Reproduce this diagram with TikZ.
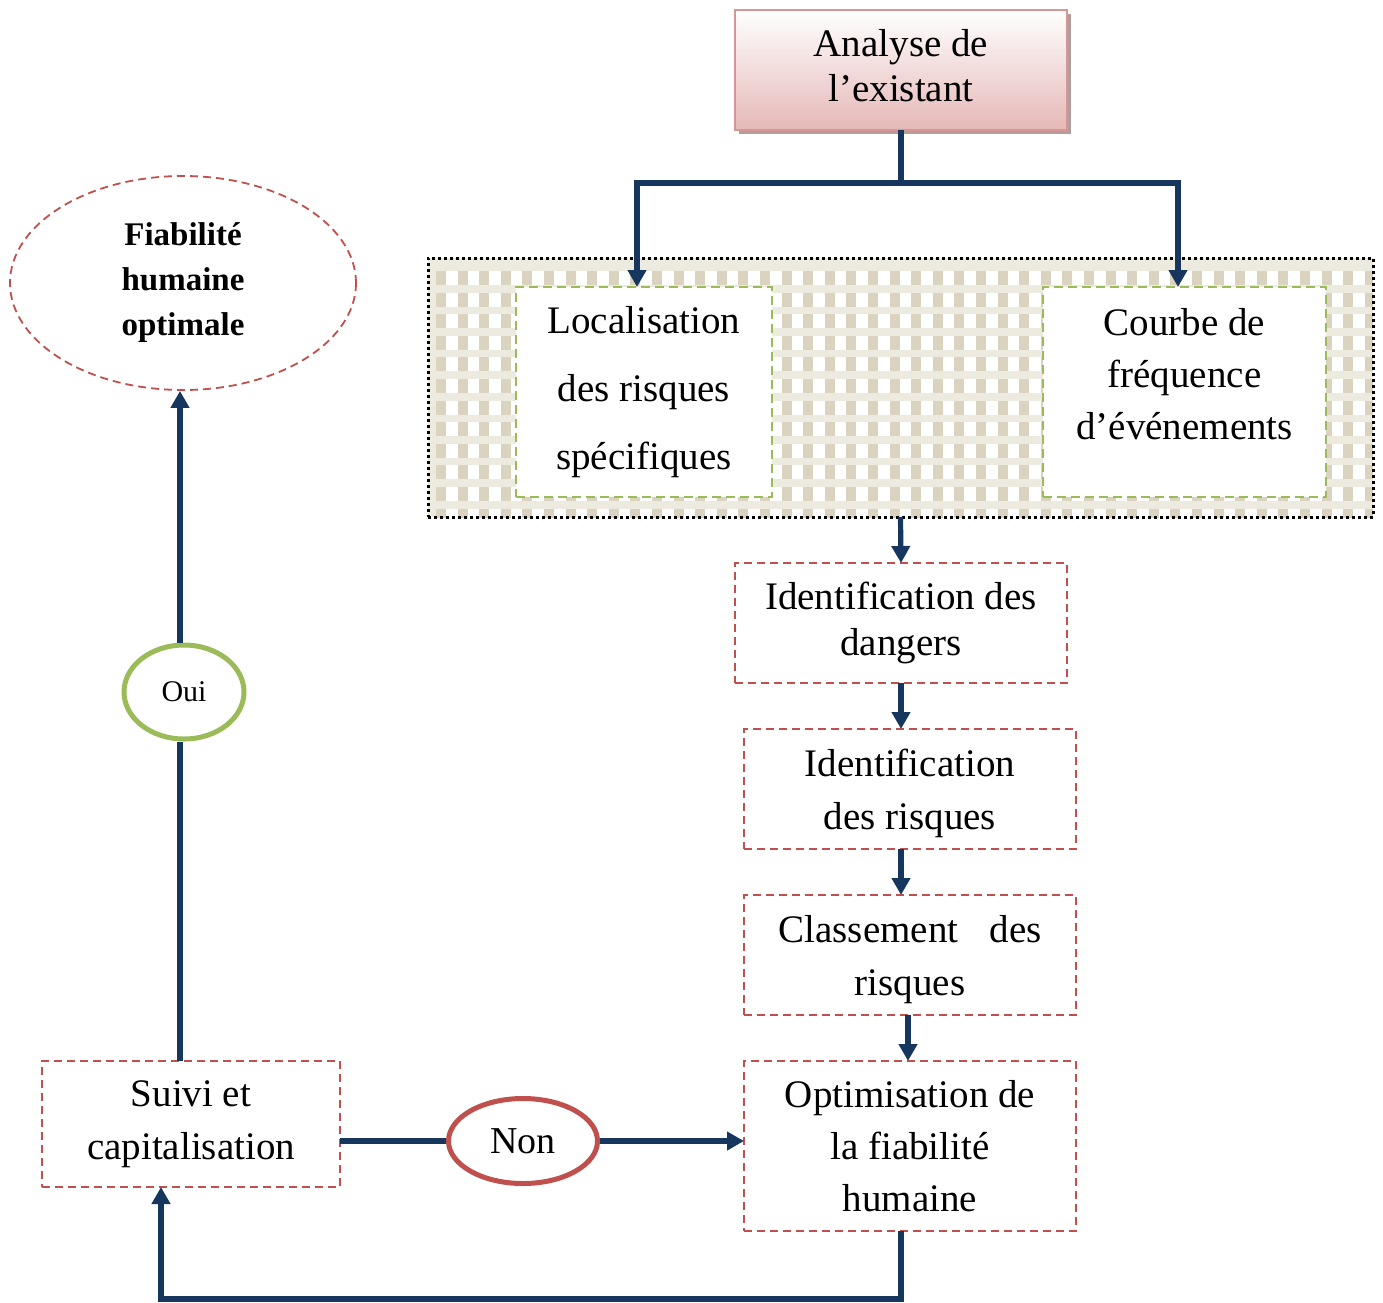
\documentclass[tikz,border=0pt]{standalone}
\usepackage{fontspec}
\setmainfont{Liberation Serif}
\usetikzlibrary{arrows.meta,shapes.geometric,shadows}
\definecolor{navy}{HTML}{17365D}
\definecolor{redd}{HTML}{C0504D}
\definecolor{greend}{HTML}{9BBB59}
\definecolor{pinkb}{HTML}{E5B8B7}
\definecolor{pinkline}{HTML}{D99594}
\definecolor{shadowc}{HTML}{B39C9C}
\definecolor{patlight}{HTML}{EDEAE0}
\definecolor{pattan}{HTML}{D9D3BF}
\tikzset{
  conn/.style={draw=navy, line width=5.2pt},
  arr/.style={conn, -{Triangle[length=17pt,width=18pt]}},
  redbox/.style={draw=redd, line width=1.8pt, dash pattern=on 8pt off 5pt, fill=white, inner sep=0pt, outer sep=0pt, align=center, font=\fontsize{39}{53}\selectfont},
  greenbox/.style={draw=greend, line width=2pt, dash pattern=on 9pt off 5pt, fill=white, inner sep=0pt, outer sep=0pt, align=center, font=\fontsize{39}{52}\selectfont},
  txt/.style={align=center, inner sep=0pt}
}
\begin{document}
\begin{tikzpicture}[x=1pt,y=-1pt]
\useasboundingbox (0,0) rectangle (1383,1302);
% patterned frame background
\begin{scope}
\clip (428,258) rectangle (1373,517);
\fill[patlight] (428,258) rectangle (1373,517);
\foreach \i in {0,...,44}{
  \foreach \j in {0,...,11}{
    \fill[pattan] ({428+21.6*\i+8},{258+21.6*\j+13}) rectangle ++(10,14);
    \fill[white] ({428+21.6*\i+18},{258+21.6*\j+13}) rectangle ++(11.6,14);
  }
}
\end{scope}
\node[draw=black, line width=3pt, dash pattern=on 3pt off 3pt, minimum width=945pt, minimum height=259pt, inner sep=0pt, outer sep=0pt] (frame) at (900.5,387.5) {};

% top box
\node[draw=pinkline, line width=2pt, top color=white, bottom color=pinkb, minimum width=332pt, minimum height=120pt, inner sep=0pt, outer sep=0pt,
  drop shadow={shadow xshift=4pt, shadow yshift=-4pt, fill=shadowc, opacity=1}] (ana) at (901,70) {};
\node[txt, font=\fontsize{39}{45}\selectfont] (anaT) at (901,66) {Analyse de\\l’existant};

% green boxes
\node[greenbox, minimum width=256pt, minimum height=210pt, font=\fontsize{39}{68}\selectfont] (loc) at (644,392) {Localisation\\des risques\\spécifiques};
\node[greenbox, minimum width=283pt, minimum height=210pt] (courbe) at (1184.5,392) {};
\node[txt, font=\fontsize{39}{52}\selectfont] (courbeT) at (1184.5,374) {Courbe de\\fréquence\\d’événements};

% red dashed boxes
\node[redbox, minimum width=332pt, minimum height=120pt, font=\fontsize{39}{46}\selectfont] (idd) at (901,623) {Identification des\\dangers};
\node[redbox, minimum width=332pt, minimum height=120pt] (idr) at (910,789) {};
\node[txt, font=\fontsize{39}{53}\selectfont] (idrT) at (910,793) {Identification\\des risques};
\node[redbox, minimum width=332pt, minimum height=120pt] (cls) at (910,955) {};
\node[txt, font=\fontsize{39}{53}\selectfont] (clsT) at (910,960) {Classement\hspace{0.8em}des\\risques};
\node[redbox, minimum width=332pt, minimum height=170pt, font=\fontsize{39}{52}\selectfont] (opt) at (910,1146) {Optimisation de\\la fiabilité\\humaine};
\node[redbox, minimum width=298pt, minimum height=126pt] (suivi) at (191,1124) {Suivi et\\capitalisation};

% ellipses
\node[ellipse, draw=redd, line width=1.8pt, dash pattern=on 8pt off 5pt, minimum width=346pt, minimum height=214pt, inner sep=0pt, align=center, font=\bfseries\fontsize{33}{45}\selectfont] (fia) at (183,283) {Fiabilité\\humaine\\optimale};
\node[ellipse, draw=greend, line width=5pt, fill=white, minimum width=120pt, minimum height=94pt, inner sep=0pt, font=\fontsize{30}{30}\selectfont] (oui) at (184,692) {Oui};
\node[ellipse, draw=redd, line width=5pt, fill=white, minimum width=149pt, minimum height=85pt, inner sep=0pt, font=\fontsize{38}{40}\selectfont] (non) at (523,1141) {Non};

% connectors
\coordinate (split) at (901,183);
\coordinate (vline) at (180,0);
\draw[conn] (ana.south) -- (split);
\draw[arr] (637,183) -- ([xshift=-7pt]loc.north);
\draw[arr] (1178,183) -- ([xshift=-6.5pt]courbe.north);
\draw[conn, line cap=rect] (637,183) -- (1178,183);
\draw[arr] (frame.south) -- (idd.north);
\draw[arr] (idd.south) -- (idd.south |- idr.north);
\draw[arr] (idd.south |- idr.south) -- (idd.south |- cls.north);
\draw[arr] ([xshift=-2pt]cls.south) -- ([xshift=-2pt]opt.north);
\draw[conn] (suivi.east |- non.west) -- (non.west);
\draw[arr] (non.east) -- (opt.west |- non.east);
\coordinate (br) at (901,1299);
\coordinate (bl) at (161,1299);
\draw[arr] (idd.south |- opt.south) -- (br) -- (bl) -- (bl |- suivi.south);
\draw[conn] (vline |- suivi.north) -- (vline |- oui.south);
\draw[arr] (vline |- oui.north) -- (vline |- fia.south);
\end{tikzpicture}
\end{document}
